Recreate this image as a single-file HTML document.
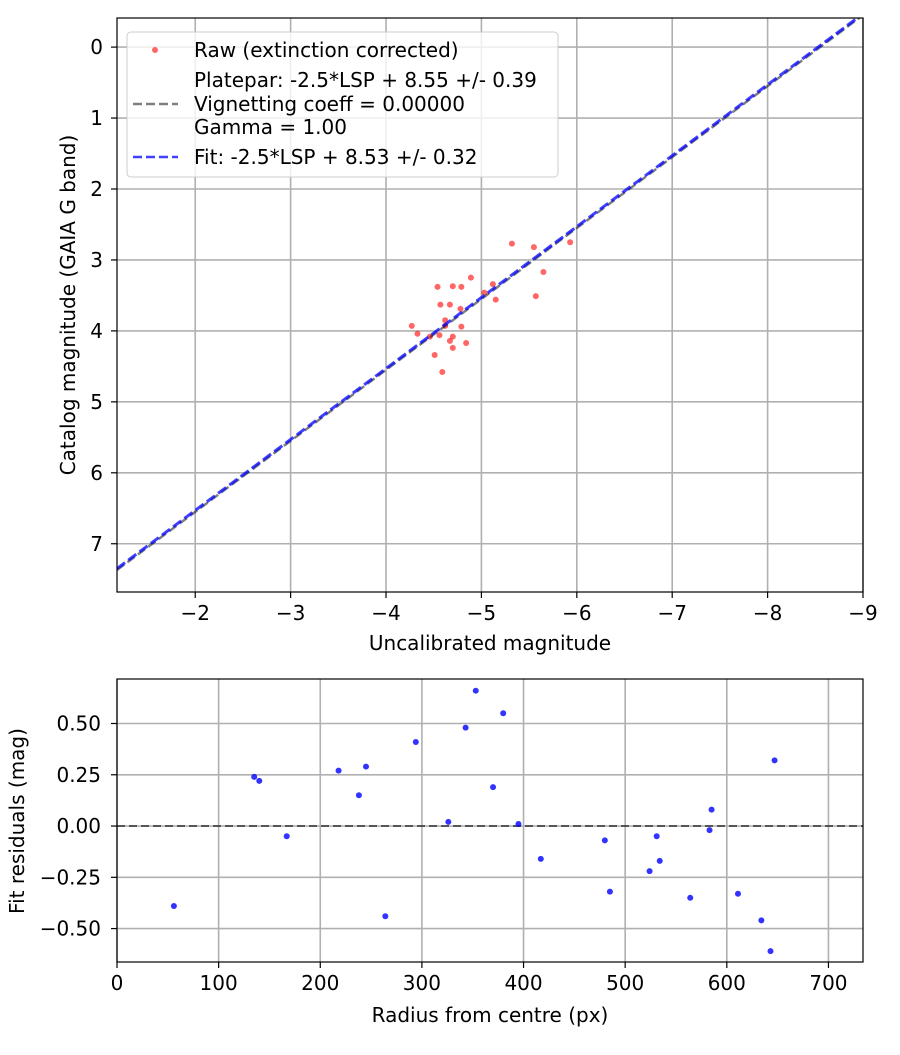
<!DOCTYPE html>
<html><head><meta charset="utf-8"><style>
body{margin:0;background:#fff}
svg text{font-family:"DejaVu Sans","Liberation Sans",sans-serif;font-size:20px;fill:#000}
</style></head><body>
<svg id="c" width="900" height="1050" xmlns="http://www.w3.org/2000/svg"></svg>
<script>
const rawX=[-5.32,-5.55,-5.93,-5.65,-5.57,-4.89,-4.54,-4.70,-4.79,-5.12,-5.03,-5.15,-4.57,-4.67,-4.78,-4.62,-4.62,-4.27,-4.33,-4.46,-4.56,-4.79,-4.70,-4.67,-4.84,-4.70,-4.51,-4.59];
const rawY=[2.77,2.82,2.75,3.17,3.51,3.25,3.38,3.37,3.38,3.34,3.46,3.56,3.63,3.63,3.69,3.85,3.93,3.93,4.04,4.08,4.06,3.94,4.08,4.14,4.17,4.24,4.34,4.58];
const fitOffset=8.53, plateOffset=8.55;
const topXTicks=[-2,-3,-4,-5,-6,-7,-8,-9];
const topYTicks=[0,1,2,3,4,5,6,7];
const resR=[56,135,140,167,218,238,245,264,294,326,343,353,370,380,395,417,480,485,524,531,534,564,583,585,611,634,643,647];
const resV=[-0.39,0.24,0.22,-0.05,0.27,0.15,0.29,-0.44,0.41,0.02,0.48,0.66,0.19,0.55,0.01,-0.16,-0.07,-0.32,-0.22,-0.05,-0.17,-0.35,-0.02,0.08,-0.33,-0.46,-0.61,0.32];
const botXTicks=[0,100,200,300,400,500,600,700];
const botYTicks=[-0.5,-0.25,0,0.25,0.5];

const svg=document.getElementById('c');const NS='http://www.w3.org/2000/svg';
function el(t,a,p){const e=document.createElementNS(NS,t);for(const k in a)e.setAttribute(k,a[k]);(p||svg).appendChild(e);return e;}
function txt(s,a,p){const e=el('text',a,p);e.textContent=s;return e;}
const fmtN=v=>(v<0?'\u2212':'')+Math.abs(v);

const T={l:117,r:863,t:18,b:592};
const tx=v=>T.l+(v-(-1.18))/((-9.0)-(-1.18))*(T.r-T.l);
const ty=v=>T.t+(v-(-0.41))/(7.68-(-0.41))*(T.b-T.t);
const gT=el('g',{});

topXTicks.forEach(v=>{const x=tx(v);
 const g=el('line',{x1:x,x2:x,y1:T.t,y2:T.b,stroke:'#b0b0b0','stroke-width':1.6},gT);
 
 el('line',{x1:x,x2:x,y1:T.b,y2:T.b+6,stroke:'#000','stroke-width':1.2},gT);
 const t=txt(fmtN(v),{x:x,y:T.b+28,'text-anchor':'middle'},gT);
 });
topYTicks.forEach(v=>{const y=ty(v);
 const g=el('line',{x1:T.l,x2:T.r,y1:y,y2:y,stroke:'#b0b0b0','stroke-width':1.6},gT);
 
 el('line',{x1:T.l-6,x2:T.l,y1:y,y2:y,stroke:'#000','stroke-width':1.2},gT);
 const t=txt(fmtN(v),{x:T.l-14,y:y+7,'text-anchor':'end'},gT);
 });
const cp=el('clipPath',{id:'cpT'});el('rect',{x:T.l,y:T.t,width:T.r-T.l,height:T.b-T.t},cp);
rawX.forEach((v,i)=>{const c=el('circle',{cx:tx(v),cy:ty(rawY[i]),r:3,fill:'rgba(255,0,0,0.6)'},gT);
 });
const x0=-1.18,x1=-9.0;
const pl=el('line',{x1:tx(x0),y1:ty(x0+plateOffset),x2:tx(x1),y2:ty(x1+plateOffset),stroke:'rgba(0,0,0,0.5)','stroke-width':2.5,'stroke-dasharray':'9,4','clip-path':'url(#cpT)'},gT);

const fl=el('line',{x1:tx(x0),y1:ty(x0+fitOffset),x2:tx(x1),y2:ty(x1+fitOffset),stroke:'rgba(0,0,255,0.75)','stroke-width':3,'stroke-dasharray':'10,4','clip-path':'url(#cpT)'},gT);

el('rect',{x:T.l,y:T.t,width:T.r-T.l,height:T.b-T.t,fill:'none',stroke:'#000','stroke-width':1.2},gT);
const xt=txt('Uncalibrated magnitude',{x:490,y:650,'text-anchor':'middle'},gT);

const yt=txt('Catalog magnitude (GAIA G band)',{x:0,y:0,'text-anchor':'middle',transform:'translate(75,305) rotate(-90)'},gT);

const lg=el('g',{});
el('rect',{x:127,y:32,width:431,height:145,rx:4,fill:'rgba(255,255,255,0.8)',stroke:'#ccc'},lg);
el('circle',{cx:155,cy:50,r:3,fill:'rgba(255,0,0,0.6)'},lg);
txt('Raw (extinction corrected)',{x:194,y:57},lg);
el('line',{x1:133,x2:178,y1:104,y2:104,stroke:'rgba(0,0,0,0.5)','stroke-width':2.5,'stroke-dasharray':'9,4'},lg);
txt('Platepar: -2.5*LSP + 8.55 +/- 0.39',{x:194,y:87},lg);
txt('Vignetting coeff = 0.00000',{x:194,y:111},lg);
txt('Gamma = 1.00',{x:194,y:134},lg);
el('line',{x1:133,x2:178,y1:157,y2:157,stroke:'rgba(0,0,255,0.75)','stroke-width':2.5,'stroke-dasharray':'9,4'},lg);
txt('Fit: -2.5*LSP + 8.53 +/- 0.32',{x:194,y:164},lg);

const B={l:117,r:863,t:679,b:962};
const bx=v=>B.l+(v-0)/(734-0)*(B.r-B.l);
const by=v=>B.t+(v-0.717)/(-0.663-0.717)*(B.b-B.t);
const gB=el('g',{});
botXTicks.forEach(v=>{const x=bx(v);
 el('line',{x1:x,x2:x,y1:B.t,y2:B.b,stroke:'#b0b0b0','stroke-width':1.6},gB);
 el('line',{x1:x,x2:x,y1:B.b,y2:B.b+6,stroke:'#000','stroke-width':1.2},gB);
 const t=txt(String(v),{x:x,y:B.b+28,'text-anchor':'middle'},gB);
 });
botYTicks.forEach(v=>{const y=by(v);
 el('line',{x1:B.l,x2:B.r,y1:y,y2:y,stroke:'#b0b0b0','stroke-width':1.6},gB);
 el('line',{x1:B.l-6,x2:B.l,y1:y,y2:y,stroke:'#000','stroke-width':1.2},gB);
 const t=txt((v<0?'\u2212':'')+Math.abs(v).toFixed(2),{x:B.l-16,y:y+7,'text-anchor':'end'},gB);
 });
const zl=el('line',{x1:B.l,x2:B.r,y1:by(0),y2:by(0),stroke:'rgba(0,0,0,0.55)','stroke-width':2,'stroke-dasharray':'8,4'},gB);

resR.forEach((v,i)=>{const c=el('circle',{cx:bx(v),cy:by(resV[i]),r:3,fill:'rgba(0,0,255,0.8)'},gB);
 });
el('rect',{x:B.l,y:B.t,width:B.r-B.l,height:B.b-B.t,fill:'none',stroke:'#000','stroke-width':1.2},gB);
const bxt=txt('Radius from centre (px)',{x:490,y:1022,'text-anchor':'middle'},gB);

const byt=txt('Fit residuals (mag)',{x:0,y:0,'text-anchor':'middle',transform:'translate(24,821) rotate(-90)'},gB);

</script>
</body></html>
